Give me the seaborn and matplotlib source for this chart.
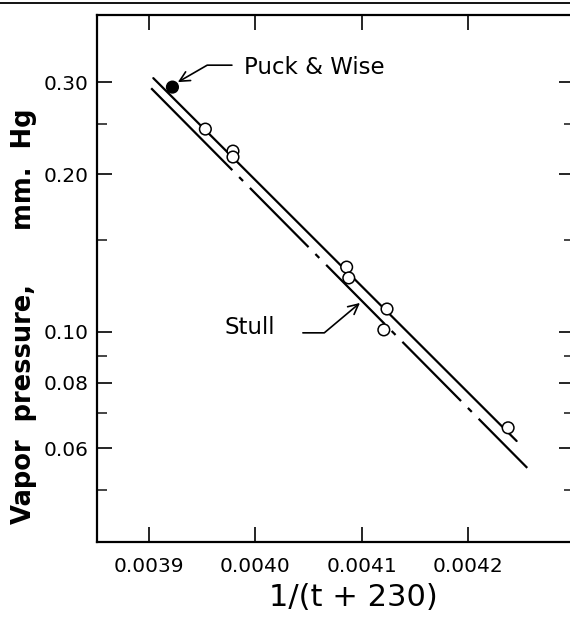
import numpy as np
import pandas as pd
import matplotlib
matplotlib.use("Agg")
import matplotlib.pyplot as plt
from matplotlib.lines import Line2D
from matplotlib.ticker import NullFormatter, NullLocator
import seaborn as sns

# measured points, 1/(t+230) vs vapor pressure (mm Hg)
inv_temp = [0.003922, 0.003953, 0.003979, 0.003979, 0.004086, 0.004088, 0.004124, 0.004121, 0.004238]
vapor_mm = [0.2935, 0.2440, 0.2215, 0.2158, 0.1330, 0.1268, 0.1106, 0.1009, 0.0656]
source = ["Puck & Wise", "this", "this", "this", "this", "this", "this", "this", "this"]

# fitted line through the points and the Stull line (end points)
fit_x = [0.003904, 0.004246]
fit_y = [0.3053, 0.0619]
stull_x = [0.003902, 0.004256]
stull_y = [0.2920, 0.0550]

x_ticks = [0.0039, 0.0040, 0.0041, 0.0042]
x_labels = ["0.0039", "0.0040", "0.0041", "0.0042"]
y_major = [0.06, 0.08, 0.10, 0.20, 0.30]
y_labels = ["0.06", "0.08", "0.10", "0.20", "0.30"]
y_minor = [0.05, 0.07, 0.09, 0.15, 0.25]

sns.set_theme(style="ticks")
plt.rcParams["font.family"] = ["DejaVu Sans"]
plt.rcParams["lines.scale_dashes"] = False
plt.rcParams["text.color"] = "black"
plt.rcParams["axes.labelcolor"] = "black"

df = pd.DataFrame({"x": inv_temp, "p": vapor_mm, "src": source})

fig = plt.figure(figsize=(5.7, 6.19), dpi=100)
ax = fig.add_axes([97 / 570, 77 / 619, 477 / 570, 527 / 619])
ax.set_yscale("log")
ax.set_xlim(0.003851, 0.0043)
ax.set_ylim(0.0397, 0.403)

sns.lineplot(x=fit_x, y=fit_y, ax=ax, color="black", lw=1.6, sort=False)
sns.lineplot(x=stull_x, y=stull_y, ax=ax, color="black", lw=1.6, sort=False)
stull_line = ax.lines[-1]
stull_line.set_dashes((83, 7, 4, 7, 60, 7, 4, 7, 60, 7, 4, 7, 60, 7, 4, 7, 120, 10))
stull_line.set_dash_capstyle("butt")

sns.scatterplot(data=df, x="x", y="p", hue="src", ax=ax, legend=False,
                palette={"Puck & Wise": "black", "this": "white"},
                edgecolor="black", linewidth=1.1, s=70, zorder=5)

# ticks
ax.set_xticks(x_ticks, x_labels)
ax.set_yticks(y_major, y_labels)
ax.set_yticks(y_minor, minor=True)
ax.yaxis.set_minor_formatter(NullFormatter())
ax.xaxis.set_minor_locator(NullLocator())
ax.tick_params(which="major", direction="in", length=11, width=1.2,
               top=True, right=True, labelsize=14.5, pad=6, colors="black")
ax.tick_params(axis="x", which="major", pad=11)
ax.tick_params(which="minor", direction="in", length=7, width=1.2,
               left=True, right=True)
for sp in ax.spines.values():
    sp.set_linewidth(1.6)
    sp.set_color("black")
    sp.set_visible(True)

ax.set_xlabel("1/(t + 230)", fontsize=22)
ax.xaxis.set_label_coords(0.537, -0.078)
ax.set_ylabel("Vapor  pressure,      mm.  Hg", fontsize=18.5, fontweight="bold")
ax.yaxis.set_label_coords(-0.125, 0.428)

# annotations
ax.text(0.0039893, 0.3204, "Puck & Wise", fontsize=16.5, va="center", ha="left")
ax.annotate("", xy=(0.0039271, 0.300), xytext=(0.0039780, 0.3232),
            arrowprops=dict(arrowstyle="->,head_length=0.6,head_width=0.3", lw=1.2,
                            color="black", shrinkA=0, shrinkB=0,
                            connectionstyle="angle,angleA=0,angleB=30,rad=0"))
ax.text(0.0039714, 0.1018, "Stull", fontsize=16.5, va="center", ha="left")
ax.annotate("", xy=(0.0040985, 0.1136), xytext=(0.0040448, 0.0996),
            arrowprops=dict(arrowstyle="->,head_length=0.6,head_width=0.3", lw=1.2,
                            color="black", shrinkA=0, shrinkB=0,
                            connectionstyle="angle,angleA=0,angleB=40,rad=0"))

# page rule above the figure
fig.add_artist(Line2D([0, 1], [1 - 3 / 619, 1 - 3 / 619], transform=fig.transFigure,
                      color="black", lw=1.3))

fig.savefig("out.png", dpi=100)
